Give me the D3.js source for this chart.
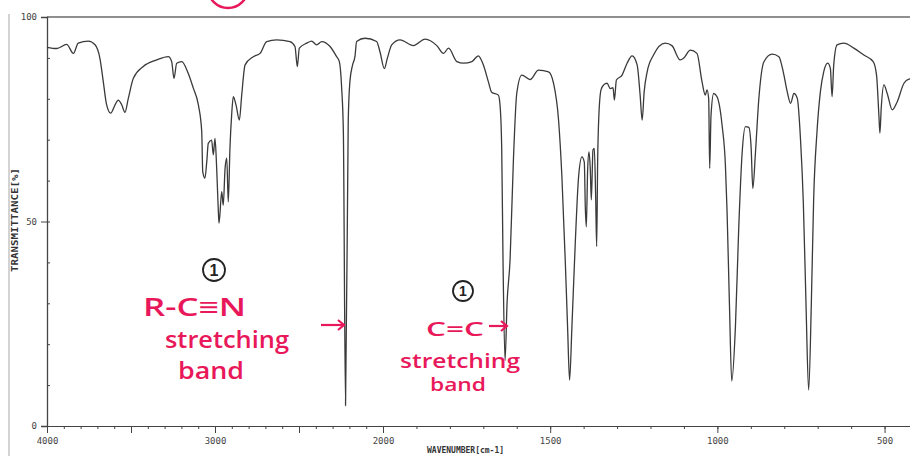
<!DOCTYPE html>
<html lang="en">
<head>
    <meta charset="UTF-8">
    <title>IR spectrum</title>
    <script src="https://d3js.org/d3.v7.min.js"></script>
    <style>
        body{ margin: 0; background: #fff; }
        path.spectrum{ fill: none; stroke: #3a3a3a; stroke-width: 1.3px; }
        .axis path, .axis line{ stroke: #444; }
        .axis text{ font-family: "DejaVu Sans Mono", monospace; font-size: 9px; fill: #444; }
        .note{ font-family: "Open Sans", sans-serif; font-weight: 600; fill: #e8185a; }
    </style>
</head>
<body>
<svg width="910" height="456"></svg>
<script>
    // spectrum (wavenumber cm-1, %T)
    const wavenumber = [4000,3942,3883,3843,3814,3754,3714,3685,3665,3645,3621,3595,3576,3556,3536,3516,3486,3427,3347,3278,
        3258,3244,3228,3198,3159,3129,3099,3079,3073,3060,3049,3040,3020,3010,3000,2990,2980,2976,2960,2951,
        2940,2930,2921,2911,2901,2891,2875,2855,2841,2821,2772,2732,2692,2633,2554,2524,2510,2498,2454,2425,
        2395,2365,2315,2276,2260,2246,2236,2223,2207,2197,2181,2167,2157,2107,2038,2018,1996,1987,1974,1949,
        1909,1874,1839,1819,1804,1779,1759,1734,1715,1700,1685,1675,1655,1650,1645,1641,1635,1629,1620,1610,
        1600,1585,1560,1535,1505,1490,1475,1465,1455,1448,1442,1435,1425,1415,1405,1398,1395,1392,1388,1384,
        1380,1377,1372,1368,1364,1361,1358,1355,1348,1340,1330,1320,1312,1308,1302,1285,1270,1255,1240,1231,
        1225,1219,1210,1191,1156,1136,1111,1101,1081,1061,1046,1036,1031,1026,1023,1019,1011,1001,986,976,
        971,964,957,946,936,926,916,906,899,894,886,876,861,836,816,803,791,781,771,761,
        751,743,735,727,719,712,702,692,682,670,662,657,652,642,622,592,562,534,524,517,
        514,510,502,492,477,462,442,427,407];
    const transmittance = [92.6,92.3,93.3,91.1,93.6,94.1,93.2,89.9,84.2,78.5,76.5,78.5,79.7,78.6,76.7,80.1,85.0,87.9,89.5,90.3,
        89.1,85.0,88.7,89.1,86.2,82.6,78.5,72.0,62.2,60.6,64.6,69.1,69.9,66.3,70.3,63.0,52.4,49.6,57.3,54.0,
        63.0,65.5,54.8,67.9,76.0,80.5,78.5,74.8,80.9,88.3,90.3,91.1,94.0,94.4,94.0,92.8,87.9,92.4,93.6,94.1,
        93.2,94.0,92.8,90.3,89.1,82.6,72.0,5.0,74.4,84.2,88.3,90.3,94.0,94.8,94.0,91.5,87.4,89.9,93.2,94.4,
        93.0,94.6,93.0,91.1,92.4,89.1,88.7,89.1,90.5,88.3,84.2,81.6,80.9,78.5,68.0,40.0,16.0,30.0,40.6,65.0,
        81.3,85.8,84.7,87.0,86.6,83.8,74.8,61.0,40.6,24.3,11.2,24.3,44.7,61.0,65.8,64.5,53.6,48.7,62.6,67.0,
        62.6,55.3,67.5,67.9,56.0,43.9,65.0,74.8,82.2,83.4,83.8,82.5,82.7,79.7,84.6,85.8,88.7,90.5,88.3,80.9,
        74.8,81.7,86.6,90.7,93.6,93.0,89.5,89.9,91.9,91.1,84.2,80.9,82.2,80.0,63.0,76.0,81.3,80.5,73.6,63.8,
        52.4,30.0,11.0,24.3,48.7,66.7,73.2,73.0,68.0,58.1,67.0,80.0,89.0,90.9,90.3,86.6,81.7,78.9,81.3,80.1,
        69.5,54.8,30.0,8.8,30.0,55.7,72.0,81.7,86.6,88.7,87.4,80.5,88.3,93.2,93.6,92.4,90.7,89.1,85.8,76.0,
        71.6,77.7,83.4,81.3,77.3,79.3,83.8,84.8,85.0];

    const xLabels = [4000, 3000, 2000, 1500, 1000, 500];
    const yLabels = [0, 50, 100];

    let svg = d3.select('svg');
    let data = wavenumber.map((w, i) => ({w: w, t: transmittance[i]}));

    // scale changes at 2000 cm-1 (chart paper style)
    let xScale = d3.scaleLinear().domain([4000, 2000, 400]).range([47, 383, 918]);
    let yScale = d3.scaleLinear().domain([0, 100]).range([426, 17]);

    // scan edge on the left
    svg.append('line').attr('x1', 9).attr('x2', 9).attr('y1', 14).attr('y2', 456)
        .attr('stroke', '#c4c4c4').attr('stroke-width', 1.5);

    // top frame line at 100 %
    svg.append('line').attr('x1', xScale(4000)).attr('x2', 910)
        .attr('y1', yScale(100)).attr('y2', yScale(100))
        .attr('stroke', '#6a6a6a').attr('stroke-width', 1.6);

    // x axis: minor every 100, major every 500
    svg.append('g').attr('class', 'axis').attr('transform', 'translate(0,' + yScale(0) + ')')
        .call(d3.axisBottom(xScale).tickValues(d3.range(4000, 399, -100)).tickSize(3).tickFormat(''));
    svg.append('g').attr('class', 'axis').attr('transform', 'translate(0,' + yScale(0) + ')')
        .call(d3.axisBottom(xScale).tickValues(d3.range(4000, 399, -500)).tickSize(7)
            .tickFormat(d => xLabels.includes(d) ? d : ''))
        .call(g => g.select('.domain').remove())
        .selectAll('text').attr('dy', '0.9em');

    // y axis
    svg.append('g').attr('class', 'axis').attr('transform', 'translate(' + xScale(4000) + ',0)')
        .call(d3.axisLeft(yScale).tickValues(yLabels).tickSize(6).tickPadding(4))
        .call(g => g.select('.domain').attr('stroke-width', 1.3));
    svg.append('g').attr('class', 'axis').attr('transform', 'translate(' + xScale(4000) + ',0)')
        .call(d3.axisRight(yScale).tickValues(d3.range(10, 100, 10)).tickSize(3).tickFormat(''))
        .call(g => g.select('.domain').remove());

    // axis titles
    svg.append('text').attr('x', 427).attr('y', 453)
        .style('font-family', '"DejaVu Sans Mono", monospace').style('font-size', '8px')
        .style('font-weight', 'bold').attr('fill', '#333').text('WAVENUMBER[cm-1]');
    svg.append('text').attr('transform', 'translate(18,220) rotate(-90)')
        .attr('text-anchor', 'middle')
        .style('font-family', '"DejaVu Sans Mono", monospace').style('font-size', '8px')
        .style('font-weight', 'bold').attr('fill', '#333')
        .attr('textLength', 104).attr('lengthAdjust', 'spacingAndGlyphs')
        .text('TRANSMITTANCE[%]');

    // spectrum
    let line = d3.line().x(d => xScale(d.w)).y(d => yScale(d.t)).curve(d3.curveMonotoneX);
    svg.append('path').datum(data).attr('class', 'spectrum').attr('d', line);

    // handwritten notes
    let notes = svg.append('g');
    notes.append('circle').attr('cx', 228).attr('cy', -12).attr('r', 20)
        .attr('fill', 'none').attr('stroke', '#e8185a').attr('stroke-width', 2.5);

    function circledOne(cx, cy, r, size){
        notes.append('circle').attr('cx', cx).attr('cy', cy).attr('r', r)
            .attr('fill', 'none').attr('stroke', '#222').attr('stroke-width', 1.8);
        notes.append('text').attr('x', cx).attr('y', cy + size * 0.36).attr('text-anchor', 'middle')
            .style('font-family', '"Liberation Sans", sans-serif').style('font-size', size + 'px')
            .style('font-weight', 'bold').attr('fill', '#222').text('1');
    }
    function arrow(x1, x2, y){
        notes.append('line').attr('x1', x1).attr('x2', x2).attr('y1', y).attr('y2', y)
            .attr('stroke', '#e8185a').attr('stroke-width', 2.2);
        notes.append('path').attr('d', `M${x2 - 6},${y - 5}L${x2},${y}L${x2 - 6},${y + 5}`)
            .attr('fill', 'none').attr('stroke', '#e8185a').attr('stroke-width', 2.2);
    }
    function note(x, y, size, len, txt){
        notes.append('text').attr('class', 'note').attr('x', x).attr('y', y)
            .style('font-size', size + 'px').attr('textLength', len)
            .attr('lengthAdjust', 'spacingAndGlyphs').text(txt);
    }

    circledOne(214, 270, 11, 16);
    note(143, 316, 26, 103, 'R-C≡N');
    note(165, 348, 24, 124, 'stretching');
    note(178, 379, 24, 66, 'band');
    arrow(321, 344, 325);

    circledOne(463, 291, 10, 14);
    note(426, 336, 20, 58, 'C=C');
    note(400, 368, 20, 120, 'stretching');
    note(430, 391, 18, 56, 'band');
    arrow(489, 507, 326);
</script>
</body>
</html>
